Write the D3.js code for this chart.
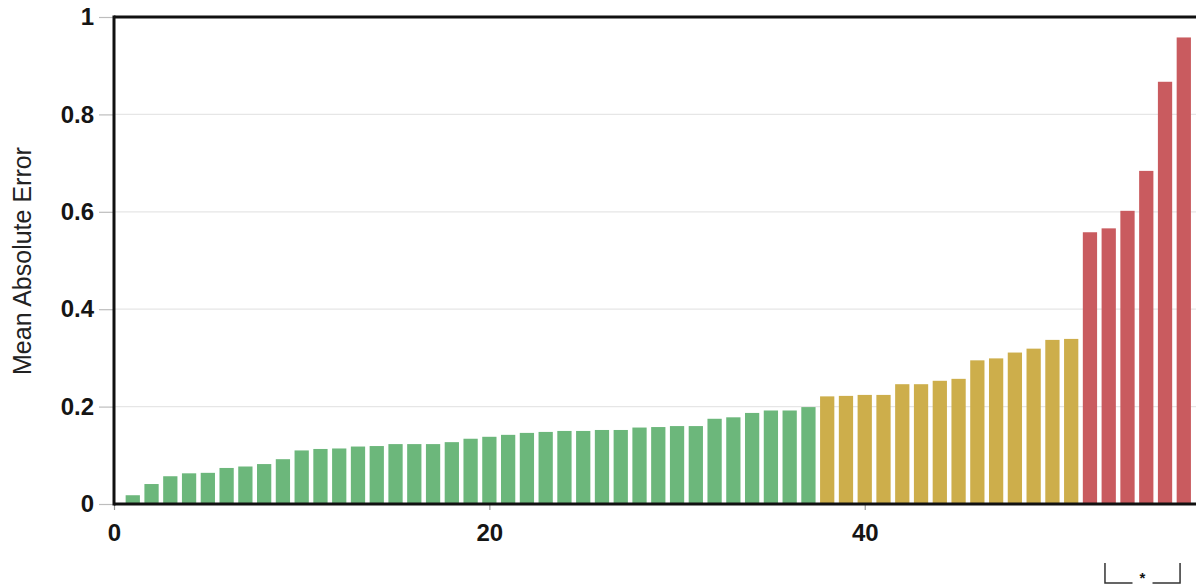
<!DOCTYPE html>
<html>
<head>
<meta charset="utf-8">
<script src="https://cdn.jsdelivr.net/npm/d3@7"></script>
<style>
  html, body { margin: 0; padding: 0; background: #fff; }
  svg { display: block; font-family: "Liberation Sans", Arial, Helvetica, sans-serif; }
</style>
</head>
<body>
<svg id="chart" width="1196" height="587"></svg>
<script>
// Mean absolute error per item, sorted ascending, grouped by error band
const greenValues = [
  0.018, 0.041, 0.057, 0.063, 0.064, 0.074, 0.077, 0.082, 0.092, 0.110,
  0.113, 0.114, 0.118, 0.119, 0.123, 0.123, 0.123, 0.127, 0.134, 0.138,
  0.142, 0.146, 0.148, 0.150, 0.150, 0.152, 0.152, 0.157, 0.158, 0.160,
  0.160, 0.175, 0.178, 0.187, 0.192, 0.192, 0.199
];
const yellowValues = [
  0.221, 0.222, 0.224, 0.224, 0.246, 0.246, 0.253, 0.257, 0.295, 0.299,
  0.311, 0.319, 0.337, 0.339
];
const redValues = [0.558, 0.566, 0.602, 0.684, 0.867, 0.958];

const groupColors = ["#6cb77b", "#cdae4b", "#c95b5f"];

const xTicks = [0, 20, 40];
const yTicks = [0, 0.2, 0.4, 0.6, 0.8, 1];
const yTickLabels = ["0", "0.2", "0.4", "0.6", "0.8", "1"];
const yTitle = "Mean Absolute Error";
const significanceMark = "*";

// Build one row per bar, numbered from 1
const rows = [];
[greenValues, yellowValues, redValues].forEach((vals, g) => {
  vals.forEach(v => rows.push({ index: rows.length + 1, value: v, group: g }));
});

const svg = d3.select("#chart");
const plotLeft = 114, plotRight = 1196, plotTop = 17, plotBottom = 504;

const x = d3.scaleLinear().domain([0, 57.65]).range([plotLeft, plotRight]);
const y = d3.scaleLinear().domain([0, 1]).range([plotBottom, plotTop]);
const color = d3.scaleOrdinal().domain([0, 1, 2]).range(groupColors);

const step = x(1) - x(0);
const barW = step * 0.76;

// Horizontal gridlines
svg.append("g")
  .selectAll("line")
  .data(yTicks.filter(t => t > 0 && t < 1))
  .join("line")
  .attr("x1", plotLeft).attr("x2", plotRight)
  .attr("y1", d => y(d)).attr("y2", d => y(d))
  .attr("stroke", "#e6e6e6").attr("stroke-width", 1.2);

// Bars
svg.append("g")
  .selectAll("rect")
  .data(rows)
  .join("rect")
  .attr("x", d => x(d.index) - barW / 2)
  .attr("width", barW)
  .attr("y", d => y(d.value))
  .attr("height", d => y(0) - y(d.value))
  .attr("fill", d => color(d.group));

// Y axis
const yAxis = d3.axisLeft(y)
  .tickValues(yTicks)
  .tickFormat((d, i) => yTickLabels[i])
  .tickSize(15)
  .tickPadding(5);
const gy = svg.append("g").attr("transform", `translate(${plotLeft},0)`).call(yAxis);
gy.select(".domain").remove();
gy.selectAll(".tick line").attr("stroke", "#bdbdbd").attr("stroke-width", 1.2);
gy.selectAll(".tick text")
  .attr("fill", "#151515")
  .style("font-size", "24px")
  .style("font-weight", "bold");

// X axis
const xAxis = d3.axisBottom(x)
  .tickValues(xTicks)
  .tickFormat(d3.format("d"))
  .tickSize(6)
  .tickPadding(14);
const gx = svg.append("g").attr("transform", `translate(0,${plotBottom})`).call(xAxis);
gx.select(".domain").remove();
gx.selectAll(".tick line").attr("stroke", "#9a9a9a").attr("stroke-width", 1.2);
gx.selectAll(".tick text")
  .attr("fill", "#151515")
  .style("font-size", "24px")
  .style("font-weight", "bold");

// Frame: left, top and bottom edges
svg.append("line")
  .attr("x1", plotLeft).attr("x2", plotLeft).attr("y1", plotTop - 1.5).attr("y2", plotBottom + 1.5)
  .attr("stroke", "#111").attr("stroke-width", 3);
svg.append("line")
  .attr("x1", plotLeft).attr("x2", plotRight).attr("y1", plotTop).attr("y2", plotTop)
  .attr("stroke", "#111").attr("stroke-width", 3);
svg.append("line")
  .attr("x1", plotLeft).attr("x2", plotRight).attr("y1", plotBottom).attr("y2", plotBottom)
  .attr("stroke", "#111").attr("stroke-width", 3);

// Y axis title
svg.append("text")
  .attr("transform", "translate(31,261) rotate(-90)")
  .attr("text-anchor", "middle")
  .attr("fill", "#222")
  .style("font-size", "25px")
  .text(yTitle);

// Significance bracket under the high-error group
const bx1 = x(52.8), bx2 = x(56.8);
const bTop = 563, bBase = 583, bMid = (bx1 + bx2) / 2;
const bracket = svg.append("g").attr("stroke", "#333").attr("stroke-width", 1.5).attr("fill", "none");
bracket.append("path").attr("d", `M${bx1},${bTop}V${bBase}H${bMid - 10}`);
bracket.append("path").attr("d", `M${bMid + 10},${bBase}H${bx2}V${bTop}`);
svg.append("text")
  .attr("x", bMid).attr("y", 583)
  .attr("text-anchor", "middle")
  .attr("fill", "#111")
  .style("font-size", "15px")
  .style("font-weight", "bold")
  .text(significanceMark);
</script>
</body>
</html>
